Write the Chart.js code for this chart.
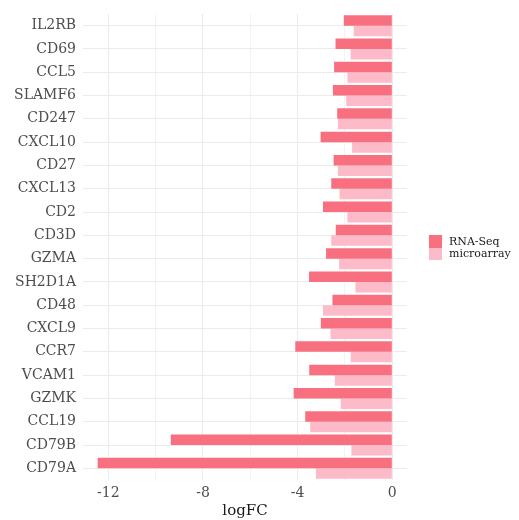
<!DOCTYPE html>
<html>
<head>
<meta charset="utf-8">
<script src="https://cdn.jsdelivr.net/npm/chart.js@4"></script>
<style>
  html, body { margin: 0; padding: 0; background: #ffffff; }
  #wrap { position: relative; width: 519px; height: 520px; }
  #legend { position: absolute; left: 429px; top: 235px; font-family: "DejaVu Serif", serif; font-size: 11px; color: #1a1a1a; }
  .item { display: flex; align-items: center; height: 12.5px; }
  .swatch { width: 13px; height: 12.5px; margin-right: 7px; }
</style>
</head>
<body>
<div id="wrap">
  <canvas id="chart" width="519" height="520"></canvas>
  <div id="legend"></div>
</div>
<script>
// genes, top to bottom
const genes = ['IL2RB', 'CD69', 'CCL5', 'SLAMF6', 'CD247', 'CXCL10', 'CD27', 'CXCL13', 'CD2', 'CD3D',
               'GZMA', 'SH2D1A', 'CD48', 'CXCL9', 'CCR7', 'VCAM1', 'GZMK', 'CCL19', 'CD79B', 'CD79A'];

// logFC values
const rnaSeq = [-2.05, -2.40, -2.46, -2.51, -2.33, -3.03, -2.48, -2.58, -2.93, -2.39,
                -2.80, -3.52, -2.53, -3.02, -4.10, -3.51, -4.17, -3.68, -9.36, -12.45];
const microarray = [-1.63, -1.76, -1.90, -1.95, -2.30, -1.70, -2.30, -2.23, -1.90, -2.58,
                    -2.25, -1.56, -2.93, -2.61, -1.76, -2.43, -2.18, -3.47, -1.73, -3.23];

const xTicks = [-12, -10, -8, -6, -4, -2, 0];
const seriesNames = ['RNA-Seq', 'microarray'];
const seriesColors = ['#F8707F', '#FDBAC8'];

const serif = '"DejaVu Serif", serif';

// legend as html
const legendEl = document.getElementById('legend');
seriesNames.forEach((name, i) => {
    const row = document.createElement('div');
    row.className = 'item';
    row.innerHTML = '<span class="swatch" style="background:' + seriesColors[i] + '"></span>' + name;
    legendEl.appendChild(row);
});

const ctx = document.getElementById('chart').getContext('2d');
new Chart(ctx, {
    type: 'bar',
    data: {
        labels: genes,
        datasets: [
            { label: seriesNames[0], data: rnaSeq, backgroundColor: seriesColors[0] },
            { label: seriesNames[1], data: microarray, backgroundColor: seriesColors[1] }
        ]
    },
    options: {
        indexAxis: 'y',
        responsive: false,
        animation: false,
        layout: { padding: { left: 0, right: 112, top: 14, bottom: 0 } },
        datasets: {
            bar: { categoryPercentage: 0.9, barPercentage: 1.0 }
        },
        plugins: {
            legend: { display: false },
            tooltip: { enabled: false }
        },
        scales: {
            x: {
                type: 'linear',
                min: -13.07,
                max: 0.62,
                afterBuildTicks: scale => {
                    scale.ticks = xTicks.map(v => ({ value: v }));
                },
                afterFit: scale => {
                    scale.height = 40;
                    scale.paddingLeft = 0;
                    scale.paddingRight = 0;
                },
                ticks: {
                    color: '#4d4d4d',
                    font: { family: serif, size: 14 },
                    padding: 5,
                    callback: v => (v % 4 === 0 ? String(v) : '')
                },
                grid: {
                    drawTicks: false,
                    color: c => (c.tick && c.tick.value % 4 === 0 ? '#EBEBEB' : '#F3F3F3'),
                    lineWidth: 1
                },
                border: { display: false },
                title: {
                    display: true,
                    text: 'logFC',
                    color: '#1a1a1a',
                    font: { family: serif, size: 15 },
                    padding: { top: 0, bottom: 0 }
                }
            },
            y: {
                offset: true,
                afterFit: scale => {
                    scale.width = 83;
                    scale.paddingTop = 0;
                    scale.paddingBottom = 0;
                },
                ticks: {
                    color: '#4d4d4d',
                    font: { family: serif, size: 14 },
                    padding: 7
                },
                grid: {
                    offset: false,
                    drawTicks: false,
                    color: '#EBEBEB',
                    lineWidth: 1
                },
                border: { display: false }
            }
        }
    }
});
</script>
</body>
</html>
